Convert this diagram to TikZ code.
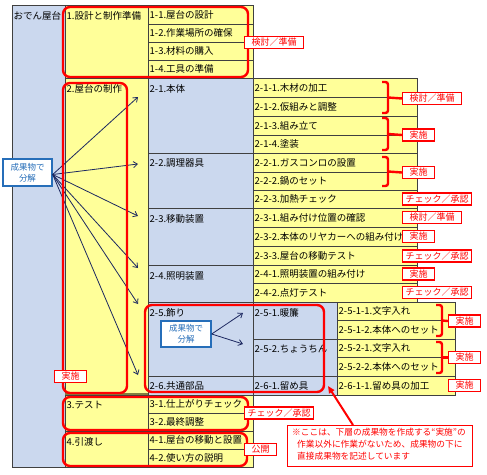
\documentclass[tikz,border=0pt]{standalone}
\usepackage{fontspec}
\setmainfont{Noto Sans CJK JP}
\usetikzlibrary{arrows.meta,calc}
\definecolor{cblue}{RGB}{203,216,238}
\definecolor{cyel}{RGB}{255,255,153}
\definecolor{cred}{RGB}{255,0,0}
\definecolor{cnavy}{RGB}{28,40,96}
\definecolor{cbb}{RGB}{38,110,185}
\definecolor{colive}{RGB}{128,128,64}
\newcommand\cellM[7]{%
 \path[gridline,fill=#6] (#2,#3) rectangle (#4,#5);
 \node[txt] (#1) at ($(#2,#3)!.5!(#2,#5)+(1.5,0)$) {#7};}
\newcommand\cellT[7]{%
 \path[gridline,fill=#6] (#2,#3) rectangle (#4,#5);
 \node[txt] (#1) at ($(#2,#3)+(1.5,10.5)$) {#7};}
\tikzset{
 gridline/.style={draw=black!75,line width=0.6pt},
 txt/.style={anchor=west,inner sep=0pt,font=\fontsize{9.5}{11}\selectfont},
 redbox/.style={draw=cred,line width=2.4pt,rounded corners=7pt},
 brace/.style={draw=cred,line width=2.4pt,rounded corners=2.5pt},
 tag/.style={draw=cred,line width=1.3pt,fill=white,text=cred,inner sep=0pt,minimum height=12pt,anchor=west,font=\fontsize{9}{10}\selectfont},
 tagw/.style={tag,minimum width=59pt},
 tagc/.style={tag,minimum width=69pt},
 tags/.style={tag,minimum width=32pt},
 decomp/.style={draw=cbb,line width=1.4pt,fill=white,text=cbb,align=center,inner sep=0pt,minimum width=49pt,minimum height=27pt,font=\fontsize{8.5}{11}\selectfont},
 navyarrow/.style={draw=cnavy,line width=0.8pt,-{Straight Barb[length=4pt,width=6pt]}}
}
\begin{document}
\begin{tikzpicture}[x=1pt,y=-1pt]
\useasboundingbox (0,0) rectangle (487,474);
% ---- table cells
\cellT{root}{12}{5}{65}{467}{cblue}{おでん屋台}
\cellT{l1}{65}{5}{148}{78}{cyel}{1.設計と制作準備}
\cellM{a11}{148}{5}{253}{24}{cyel}{1-1.屋台の設計}
\cellM{a12}{148}{24}{253}{42}{cyel}{1-2.作業場所の確保}
\cellM{a13}{148}{42}{253}{60}{cyel}{1-3.材料の購入}
\cellM{a14}{148}{60}{253}{78}{cyel}{1-4.工具の準備}
\cellT{l2}{65}{78}{148}{395}{cyel}{2.屋台の制作}
\draw[colive,line width=2pt] (65,393.5) -- (148,393.5);
\cellT{b21}{148}{78}{253}{153}{cblue}{2-1.本体}
\cellM{b211}{253}{78}{417}{97}{cyel}{2-1-1.木材の加工}
\cellM{b212}{253}{97}{417}{116}{cyel}{2-1-2.仮組みと調整}
\cellM{b213}{253}{116}{417}{135}{cyel}{2-1-3.組み立て}
\cellM{b214}{253}{135}{417}{153}{cyel}{2-1-4.塗装}
\cellT{b22}{148}{153}{253}{208}{cblue}{2-2.調理器具}
\cellM{b221}{253}{153}{417}{172}{cyel}{2-2-1.ガスコンロの設置}
\cellM{b222}{253}{172}{417}{190}{cyel}{2-2-2.鍋のセット}
\cellM{b223}{253}{190}{417}{208}{cyel}{2-2-3.加熱チェック}
\cellT{b23}{148}{208}{253}{265}{cblue}{2-3.移動装置}
\cellM{b231}{253}{208}{417}{227}{cyel}{2-3-1.組み付け位置の確認}
\cellM{b232}{253}{227}{417}{246}{cyel}{2-3-2.本体のリヤカーへの組み付け}
\cellM{b233}{253}{246}{417}{265}{cyel}{2-3-3.屋台の移動テスト}
\cellT{b24}{148}{265}{253}{302}{cblue}{2-4.照明装置}
\cellM{b241}{253}{265}{417}{283}{cyel}{2-4-1.照明装置の組み付け}
\cellM{b242}{253}{283}{417}{302}{cyel}{2-4-2.点灯テスト}
\cellT{b25}{148}{302}{253}{376}{cblue}{2-5.飾り}
\cellT{b251}{253}{302}{337}{339}{cblue}{2-5-1.暖簾}
\cellM{b2511}{337}{302}{455}{320}{cyel}{2-5-1-1.文字入れ}
\cellM{b2512}{337}{320}{455}{339}{cyel}{2-5-1-2.本体へのセット}
\cellT{b252}{253}{339}{337}{376}{cblue}{2-5-2.ちょうちん}
\cellM{b2521}{337}{339}{455}{357}{cyel}{2-5-2-1.文字入れ}
\cellM{b2522}{337}{357}{455}{376}{cyel}{2-5-2-2.本体へのセット}
\cellM{b26}{148}{376}{253}{395}{cblue}{2-6.共通部品}
\cellM{b261}{253}{376}{337}{395}{cblue}{2-6-1.留め具}
\cellM{b2611}{337}{376}{455}{395}{cyel}{2-6-1-1.留め具の加工}
\cellT{l3}{65}{395}{148}{431}{cyel}{3.テスト}
\cellM{c31}{148}{395}{253}{413}{cyel}{3-1.仕上がりチェック}
\cellM{c32}{148}{413}{253}{431}{cyel}{3-2.最終調整}
\cellT{l4}{65}{431}{148}{467}{cyel}{4.引渡し}
\cellM{d41}{148}{431}{253}{449}{cyel}{4-1.屋台の移動と設置}
\cellM{d42}{148}{449}{253}{467}{cyel}{4-2.使い方の説明}
% ---- decomposition boxes and arrows
\node[decomp] (dec1) at (27.5,172.5) {成果物で\\分解};
\coordinate (p21) at (138,97);
\coordinate (p22) at (138,164);
\coordinate (p23) at (138,216);
\coordinate (p24) at (138,268);
\coordinate (p25) at (138,304);
\coordinate (p26) at (138,375);
\foreach \p in {p21,p22,p23,p24,p25,p26}
  \draw[navyarrow] ([yshift=-2pt]dec1.east) -- (\p);
\node[decomp,minimum width=50pt,minimum height=26pt] (dec2) at (186,334) {成果物で\\分解};
\coordinate (p251) at (243,313);
\coordinate (p252) at (243,344);
\draw[navyarrow] (dec2.east) -- (p251);
\draw[navyarrow] (dec2.east) -- (p252);
% ---- red groupings
\draw[redbox] (63,7) rectangle (248,77);
\draw[redbox] (63,83) rectangle (127,393);
\draw[redbox] (145,305) rectangle (324,392);
\draw[redbox] (63,397) rectangle (248,430);
\draw[redbox] (63,433) rectangle (247,466);
% braces
\draw[brace] (382,82) -- (388,82) -- (388,113) -- (382,113);
\draw[brace] (382,118) -- (388,118) -- (388,150) -- (382,150);
\draw[brace] (382,157) -- (388,157) -- (388,186) -- (382,186);
\draw[brace] (436,305) -- (442,305) -- (442,336) -- (436,336);
\draw[brace] (436,342) -- (442,342) -- (442,373) -- (436,373);
% tags
\node[tagw] (g1) at (244,42.5) {検討／準備};
\node[tagw] (g211) at (402,98.5) {検討／準備};
\node[tags] (g213) at (402,135) {実施};
\node[tags] (g221) at (402,172.5) {実施};
\node[tagc] (g223) at (402,199) {チェック／承認};
\node[tagw] (g231) at (402,217.5) {検討／準備};
\node[tags] (g232) at (402,236.5) {実施};
\node[tagc] (g233) at (402,256) {チェック／承認};
\node[tags] (g241) at (402,274) {実施};
\node[tagc] (g242) at (402,292.5) {チェック／承認};
\node[tags] (g251) at (448,321) {実施};
\node[tags] (g252) at (448,357.5) {実施};
\node[tags] (g261) at (448,385.5) {実施};
\node[tags] (g2) at (54,376.5) {実施};
\node[tagc] (g3) at (244,413) {チェック／承認};
\node[tags] (g4) at (244,449.5) {公開};
\draw[brace,rounded corners=0pt] (388,97.5) -- (g211.west);
\draw[brace,rounded corners=0pt] (388,134) -- (g213.west);
\draw[brace,rounded corners=0pt] (388,171.5) -- (g221.west);
\draw[brace,rounded corners=0pt] (442,320.5) -- (g251.west);
\draw[brace,rounded corners=0pt] (442,357.5) -- (g252.west);
% ---- note
\node[draw=cred,line width=1.3pt,fill=white,anchor=north west,minimum width=185pt,minimum height=41pt,inner sep=0pt] (note) at (287,425) {};
\node[anchor=north west,inner sep=0pt,align=left,text=cred,font=\fontsize{8.7}{12.2}\selectfont] (notetxt) at (292,427.5)
 {※ここは、下層の成果物を作成する“実施”の\\\hspace*{5pt}作業以外に作業がないため、成果物の下に\\\hspace*{5pt}直接成果物を記述しています};
\coordinate (redtip) at (328,386);
\draw[cred,line width=2pt,-{Triangle[length=7pt,width=6pt]}] ($(note.north west)+(66,0)$) -- (redtip);
\end{tikzpicture}
\end{document}
